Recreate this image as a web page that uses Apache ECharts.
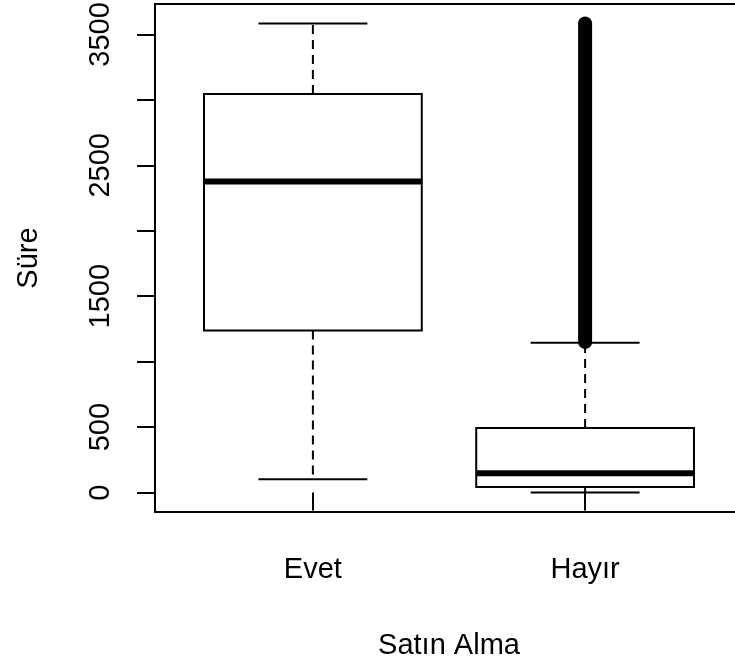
<!DOCTYPE html>
<html>
<head>
<meta charset="utf-8">
<script src="https://cdn.jsdelivr.net/npm/echarts@6/dist/echarts.min.js"></script>
<style>
  html, body { margin: 0; padding: 0; background: #fff; }
  #chart { width: 735px; height: 668px; }
</style>
</head>
<body>
<div id="chart"></div>
<script>
// Purchase groups and the five-number summary of session duration per group
const categories = ['Evet', 'Hayır'];
const lowerWhisker = [102, 0];
const q1 = [1239, 42];
const median = [2376, 148];
const q3 = [3044, 494];
const upperWhisker = [3584, 1144];
// Hayır has a dense run of outliers above its whisker: lowest and highest value
const hayirOutlierRange = [1150, 3584];

const yTicks = [0, 500, 1000, 1500, 2000, 2500, 3000, 3500];
const yLabels = [0, 500, 1500, 2500, 3500];

const FONT = 'Liberation Sans, Arial, sans-serif';

const boxData = categories.map((c, i) => [i + 1, lowerWhisker[i], q1[i], median[i], q3[i], upperWhisker[i]]);
const outlierData = [[2, hayirOutlierRange[0], hayirOutlierRange[1]]];

const chart = echarts.init(document.getElementById('chart'), null, { renderer: 'canvas' });

chart.setOption({
  animation: false,
  backgroundColor: '#fff',
  grid: {
    left: 155, right: -8, top: 4, bottom: 156,
    outerBoundsMode: 'none',
    containLabel: false,
    show: true, borderColor: '#000', borderWidth: 2, backgroundColor: 'transparent'
  },
  xAxis: {
    type: 'value',
    min: 0.42, max: 2.58,
    splitLine: { show: false },
    axisLine: { show: false },
    axisTick: { show: true, length: 18, lineStyle: { color: '#000', width: 2 }, customValues: [1, 2] },
    axisLabel: {
      customValues: [1, 2],
      formatter: v => categories[Math.round(v) - 1] || '',
      color: '#000', fontSize: 29, fontFamily: FONT, margin: 43
    },
    name: 'Satın Alma',
    nameLocation: 'middle',
    nameGap: 119,
    nameTextStyle: { color: '#000', fontSize: 29, fontFamily: FONT }
  },
  yAxis: {
    type: 'value',
    min: -148, max: 3732,
    splitLine: { show: false },
    axisLine: { show: false },
    axisTick: { show: true, length: 18, lineStyle: { color: '#000', width: 2 }, customValues: yTicks },
    axisLabel: {
      customValues: yLabels,
      formatter: v => String(v),
      rotate: 90,
      color: '#000', fontSize: 29, fontFamily: FONT, margin: 40
    },
    name: 'Süre',
    nameLocation: 'middle',
    nameRotate: 90,
    nameGap: 112,
    nameTextStyle: { color: '#000', fontSize: 29, fontFamily: FONT }
  },
  series: [
    {
      // boxes, medians, dashed whiskers and staples
      type: 'custom',
      data: boxData,
      encode: { x: 0, y: [1, 2, 3, 4, 5] },
      renderItem: function (params, api) {
        const x = api.value(0);
        const lw = api.value(1), b1 = api.value(2), md = api.value(3), b3 = api.value(4), uw = api.value(5);
        const boxW = api.size([0.8, 0])[0];
        const capW = api.size([0.4, 0])[0];
        const pLw = api.coord([x, lw]);
        const p1 = api.coord([x, b1]);
        const pM = api.coord([x, md]);
        const p3 = api.coord([x, b3]);
        const pUw = api.coord([x, uw]);
        const cx = p1[0];
        const line = (x1, y1, x2, y2, w, dash) => ({
          type: 'line',
          shape: { x1, y1, x2, y2 },
          style: { stroke: '#000', lineWidth: w, lineDash: dash || null, fill: null }
        });
        return {
          type: 'group',
          children: [
            line(cx, p3[1], cx, pUw[1], 2, [9, 6]),
            line(cx, p1[1], cx, pLw[1], 2, [9, 6]),
            line(cx - capW / 2, pUw[1], cx + capW / 2, pUw[1], 2),
            line(cx - capW / 2, pLw[1], cx + capW / 2, pLw[1], 2),
            {
              type: 'rect',
              shape: { x: cx - boxW / 2, y: p3[1], width: boxW, height: p1[1] - p3[1] },
              style: { fill: '#fff', stroke: '#000', lineWidth: 2 }
            },
            line(cx - boxW / 2, pM[1], cx + boxW / 2, pM[1], 6)
          ]
        };
      },
      z: 2
    },
    {
      // overlapping outlier circles that merge into one solid band
      type: 'custom',
      data: outlierData,
      encode: { x: 0, y: [1, 2] },
      renderItem: function (params, api) {
        const x = api.value(0);
        const lo = api.coord([x, api.value(1)]);
        const hi = api.coord([x, api.value(2)]);
        return {
          type: 'line',
          shape: { x1: lo[0], y1: lo[1], x2: hi[0], y2: hi[1] },
          style: { stroke: '#000', lineWidth: 14, lineCap: 'round', fill: null }
        };
      },
      z: 3
    }
  ]
});
</script>
</body>
</html>
